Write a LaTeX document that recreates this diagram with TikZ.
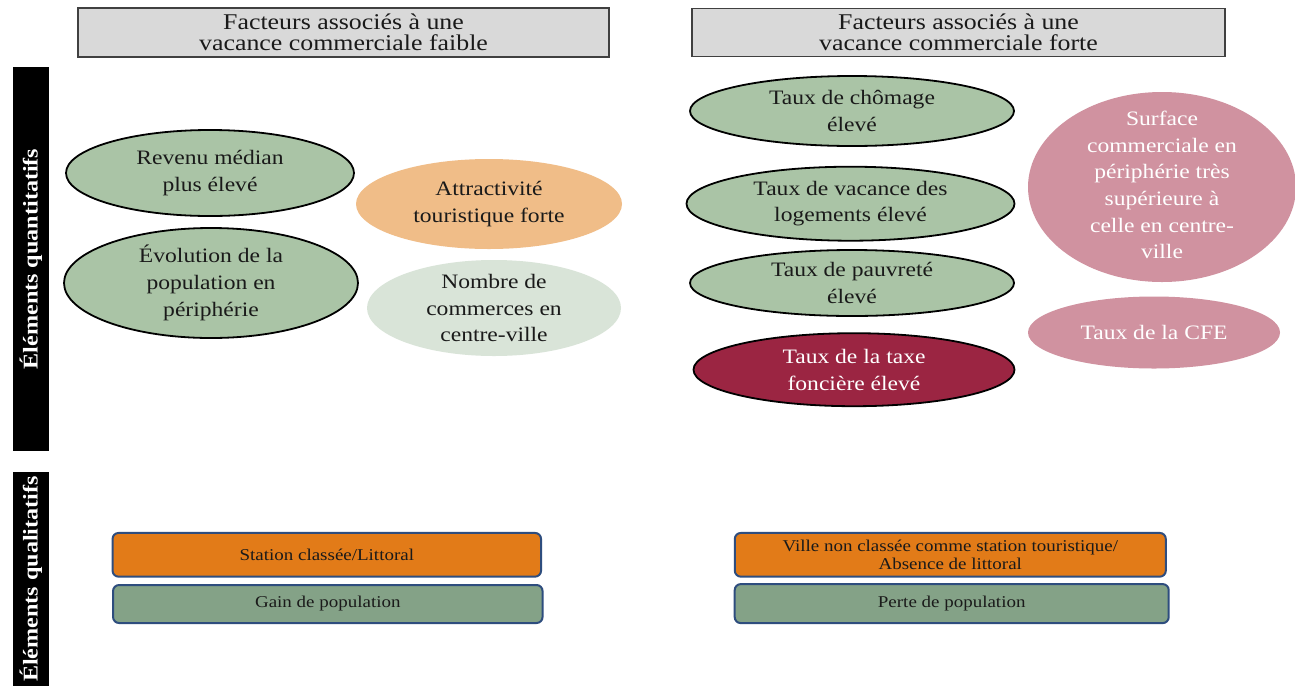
\documentclass[tikz,border=0pt]{standalone}
\usepackage{fontspec}
\setmainfont{Liberation Serif}[FakeStretch=1.15]
\usetikzlibrary{shapes.geometric}
\definecolor{hdrfill}{HTML}{D9D9D9}
\definecolor{hdrline}{HTML}{404040}
\definecolor{sage}{HTML}{AAC4A6}
\definecolor{peach}{HTML}{F0BD88}
\definecolor{palegreen}{HTML}{D9E4D8}
\definecolor{wine}{HTML}{9B2542}
\definecolor{mauve}{HTML}{D092A0}
\definecolor{boxorange}{HTML}{E27B18}
\definecolor{boxgreen}{HTML}{84A287}
\definecolor{boxblue}{HTML}{2E4D7E}
\definecolor{ink}{HTML}{1A1A1A}
\tikzset{
  hdrbox/.style={draw=hdrline, line width=1.3pt, fill=hdrfill, inner sep=0pt, align=center,
    text=ink, font=\fontsize{22.5pt}{21.5pt}\selectfont},
  sidebar/.style={fill=black, text=white, rotate=90, inner sep=0pt,
    font=\fontsize{21pt}{24pt}\selectfont\bfseries},
  ellbase/.style={ellipse, inner sep=0pt},
  ellgreen/.style={ellbase, draw=black, line width=1.8pt, fill=sage},
  ellwine/.style={ellbase, draw=black, line width=1.8pt, fill=wine},
  ellpeach/.style={ellbase, fill=peach},
  ellpale/.style={ellbase, fill=palegreen},
  ellmauve/.style={ellbase, fill=mauve},
  etext/.style={align=center, inner sep=0pt, text=ink, font=\fontsize{20.5pt}{26.7pt}\selectfont},
  etextw/.style={etext, text=white},
  qbox/.style={rounded corners=6pt, draw=boxblue, line width=2pt, inner sep=0pt, align=center,
    text=ink, font=\fontsize{16.5pt}{18.5pt}\selectfont},
  qorange/.style={qbox, fill=boxorange},
  qgreen/.style={qbox, fill=boxgreen}
}
\begin{document}
\begin{tikzpicture}[x=1pt,y=-1pt]
\useasboundingbox (0,0) rectangle (1295,686);
\fill[white] (0,0) rectangle (1295,686);

% headers
\node[hdrbox, minimum width=531pt, minimum height=49pt] (h1) at (343.5,32.5)
  {Facteurs associés à une\\vacance commerciale faible};
\node[hdrbox, minimum width=533pt, minimum height=48pt] (h2) at (958.5,32.5)
  {Facteurs associés à une\\vacance commerciale forte};

% side bars
\node[sidebar, minimum width=384pt, minimum height=36.5pt] (sq) at (30.8,259) {Éléments quantitatifs};
\node[sidebar, minimum width=214pt, minimum height=36.5pt] (sl) at (30.8,579) {Éléments qualitatifs};

% left ellipses
\node[ellgreen, minimum width=288pt, minimum height=86pt] (rev) at (210,173) {};
\node[etext] (revt) at (rev) {Revenu médian\\plus élevé};
\node[ellgreen, minimum width=294pt, minimum height=110pt] (evo) at (211,283) {};
\node[etext] (evot) at (evo) {Évolution de la\\population en\\périphérie};
\node[ellpeach, minimum width=266pt, minimum height=90pt] (att) at (489,204) {};
\node[etext] (attt) at (att) {Attractivité\\touristique forte};
\node[ellpale, minimum width=254pt, minimum height=96pt] (nom) at (494,308) {};
\node[etext] (nomt) at (nom) {Nombre de\\commerces en\\centre-ville};

% right ellipses
\node[ellgreen, minimum width=324pt, minimum height=70pt] (cho) at (852,111) {};
\node[etext] (chot) at (cho) {Taux de chômage\\élevé};
\node[ellgreen, minimum width=328pt, minimum height=74pt] (vac) at (850.5,203.7) {};
\node[etext] (vact) at (vac) {Taux de vacance des\\logements élevé};
\node[ellgreen, minimum width=324pt, minimum height=66pt] (pau) at (852,283) {};
\node[etext] (paut) at (pau) {Taux de pauvreté\\élevé};
\node[ellwine, minimum width=321pt, minimum height=73pt] (tax) at (854,369.7) {};
\node[etextw] (taxt) at (tax) {Taux de la taxe\\foncière élevé};
\node[ellmauve, minimum width=268pt, minimum height=190pt] (sur) at (1162,187) {};
\node[etextw] (surt) at ([yshift=2pt]sur.center) {Surface\\commerciale en\\périphérie très\\supérieure à\\celle en centre-\\ville};
\node[ellmauve, minimum width=252pt, minimum height=72pt] (cfe) at (1154,332.5) {};
\node[etextw] (cfet) at (cfe) {Taux de la CFE};

% qualitative boxes
\node[qorange, minimum width=428.5pt, minimum height=43.7pt] (sta) at (326.8,554.8) {Station classée/Littoral};
\node[qgreen, minimum width=429.5pt, minimum height=38pt] (gai) at (327.8,604) {Gain de population};
\node[qorange, minimum width=431pt, minimum height=43.7pt] (vil) at (950.3,554.8)
  {Ville non classée comme station touristique/\\Absence de littoral};
\node[qgreen, minimum width=434pt, minimum height=39pt] (per) at (951.7,603.6) {Perte de population};
\end{tikzpicture}
\end{document}
